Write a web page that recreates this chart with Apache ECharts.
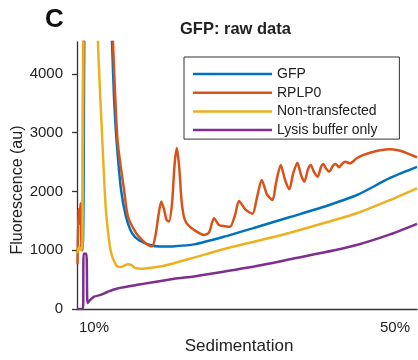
<!DOCTYPE html>
<html>
<head>
<meta charset="utf-8">
<script src="https://cdn.jsdelivr.net/npm/echarts@6/dist/echarts.min.js"></script>
<style>
  html, body { margin: 0; padding: 0; background: #fff; }
  #chart { width: 418px; height: 360px; }
</style>
</head>
<body>
<div id="chart"></div>
<script>
// Sedimentation position (% of gradient) and raw fluorescence (au) per trace.
// Values above the axis maximum are the off-scale part of the gradient top.
const gfpX = [7.81, 8.14, 8.54, 8.87, 10.53, 11.86, 12.39, 12.66, 12.99, 13.59, 14.25, 15.05, 15.98, 17.44, 18.77, 20.76, 23.29, 27.14, 31.66, 36.05, 40.43, 44.95, 49.34, 52.92];
const gfpY = [1000, 1050, 1150, 6000, 9500, 6000, 4540, 3600, 2880, 2030, 1570, 1290, 1170, 1090, 1065, 1070, 1100, 1225, 1395, 1565, 1735, 1940, 2230, 2420];

const rplp0X = [7.81, 7.94, 8.07, 8.21, 8.34, 8.47, 8.67, 10.53, 11.99, 12.52, 13.12, 13.99, 14.52, 15.58, 16.38, 17.04, 17.71,
  18.17, 18.57, 18.94, 19.30, 19.63, 19.97, 20.37, 20.70, 21.00, 21.30, 21.63, 21.96, 22.36, 23.29, 24.62, 25.28, 25.95, 26.61,
  27.41, 28.07, 28.74, 29.27, 30.13, 31.06, 31.66, 32.29, 32.99, 33.72, 34.19, 34.81, 35.38, 35.95, 36.45, 37.02, 37.51, 37.95,
  38.44, 38.80, 39.24, 39.73, 40.17, 40.47, 40.83, 41.27, 41.76, 42.12, 42.56, 42.96, 43.36, 44.02, 44.91, 45.75, 46.68, 48.01,
  49.34, 50.27, 51.10, 51.99, 52.92];
const rplp0Y = [760, 1700, 1450, 1800, 1050, 1000, 6000, 9500, 6000, 4540, 2880, 2030, 1570, 1295, 1175, 1100, 1064,
  1250, 1600, 1830, 1700, 1520, 1490, 1800, 2450, 2740, 2450, 1850, 1560, 1450, 1345, 1260, 1300, 1545, 1430,
  1410, 1400, 1600, 1840, 1690, 1620, 1900, 2196, 1950, 1855, 2150, 2450, 2200, 2037, 2300, 2490, 2280, 2167,
  2380, 2451, 2330, 2252, 2420, 2468, 2390, 2337, 2440, 2468, 2412, 2470, 2507, 2480, 2565, 2620, 2660, 2700,
  2718, 2705, 2677, 2630, 2582];

const nonX = [7.81, 8.01, 8.27, 8.47, 8.67, 9.47, 10.33, 10.53, 10.80, 11.10, 11.33, 11.55, 11.79, 11.99, 12.19, 12.43, 12.72,
  13.12, 13.59, 14.12, 14.52, 14.92, 15.45, 16.11, 17.04, 18.77, 20.63, 23.29, 27.18, 31.62, 36.05, 40.47, 44.91, 49.34, 52.92];
const nonY = [950, 1060, 1000, 1150, 6000, 9500, 6000, 4540, 3700, 2880, 2250, 1740, 1400, 1175, 1010, 890, 800,
  720, 715, 745, 760, 750, 700, 685, 695, 725, 780, 875, 1016, 1157, 1299, 1459, 1629, 1855, 2054];

const lysisX = [7.74, 8.54, 8.62, 8.98, 9.14, 9.47, 10.00, 10.89, 11.77, 13.10, 16.21, 20.63, 23.29, 27.18, 31.62, 36.05, 40.47, 44.91, 49.34, 52.92];
const lysisY = [0, 0, 940, 940, 100, 150, 209, 240, 290, 350, 420, 515, 555, 635, 732, 846, 960, 1090, 1270, 1450];

const seriesNames = ['GFP', 'RPLP0', 'Non-transfected', 'Lysis buffer only'];
const seriesColors = ['#0072BD', '#D95319', '#EDB120', '#7E2F8E'];

const xTicks = [10, 50];
const yTicks = [0, 1000, 2000, 3000, 4000];

const FONT = '"Liberation Sans", Arial, Helvetica, sans-serif';
const INK = '#222';

function pairs(xs, ys) { return xs.map((x, i) => [x, ys[i]]); }
const traces = [pairs(gfpX, gfpY), pairs(rplp0X, rplp0Y), pairs(nonX, nonY), pairs(lysisX, lysisY)];

const chart = echarts.init(document.getElementById('chart'), null, { renderer: 'canvas' });

chart.setOption({
  animation: false,
  backgroundColor: '#fff',
  title: {
    text: 'GFP: raw data',
    left: 180, top: 21, padding: 0,
    textStyle: { fontFamily: FONT, fontSize: 16.5, fontWeight: 'bold', color: INK }
  },
  grid: { left: 77, right: 1, top: 42, bottom: 51, containLabel: false },
  legend: {
    orient: 'vertical',
    left: 184, top: 57,
    padding: [9, 22, 1, 9],
    icon: 'rect',
    itemWidth: 79, itemHeight: 2.5, itemGap: 2.7,
    backgroundColor: '#fff',
    borderColor: '#333', borderWidth: 1,
    textStyle: { fontFamily: FONT, fontSize: 14, color: INK, lineHeight: 16 },
    data: seriesNames
  },
  xAxis: {
    type: 'value',
    min: 7.74, max: 52.92,
    axisLine: { show: true, onZero: false, lineStyle: { color: '#333', width: 1.3 } },
    axisTick: { show: false },
    splitLine: { show: false },
    axisLabel: {
      customValues: xTicks,
      formatter: v => v + '%',
      margin: 11,
      fontFamily: FONT, fontSize: 15, color: INK
    }
  },
  yAxis: {
    type: 'value',
    min: 0, max: 4544,
    axisLine: { show: true, lineStyle: { color: '#333', width: 1.3 } },
    axisTick: { show: true, inside: false, length: 5, customValues: yTicks, lineStyle: { color: '#333', width: 1.3 } },
    splitLine: { show: false },
    axisLabel: {
      customValues: yTicks,
      formatter: v => String(v),
      margin: 14,
      fontFamily: FONT, fontSize: 15, color: INK
    }
  },
  graphic: [
    {
      type: 'text', left: 45, top: 7,
      style: { text: 'C', fontFamily: FONT, fontSize: 26, fontWeight: 'bold', fill: '#111' }
    },
    {
      type: 'text', x: 18, y: 190, rotation: Math.PI / 2,
      style: { text: 'Fluorescence (au)', fontFamily: FONT, fontSize: 16, fill: INK, align: 'center', verticalAlign: 'middle' }
    },
    {
      type: 'text', x: 239, y: 346,
      style: { text: 'Sedimentation', fontFamily: FONT, fontSize: 17, fill: INK, align: 'center', verticalAlign: 'middle' }
    }
  ],
  series: traces.map((data, i) => ({
    name: seriesNames[i],
    type: 'line',
    data: data,
    showSymbol: false,
    symbol: 'none',
    smooth: 0.25,
    clip: true,
    color: seriesColors[i],
    itemStyle: { color: seriesColors[i] },
    lineStyle: { color: seriesColors[i], width: 2.5 }
  }))
});
</script>
</body>
</html>
